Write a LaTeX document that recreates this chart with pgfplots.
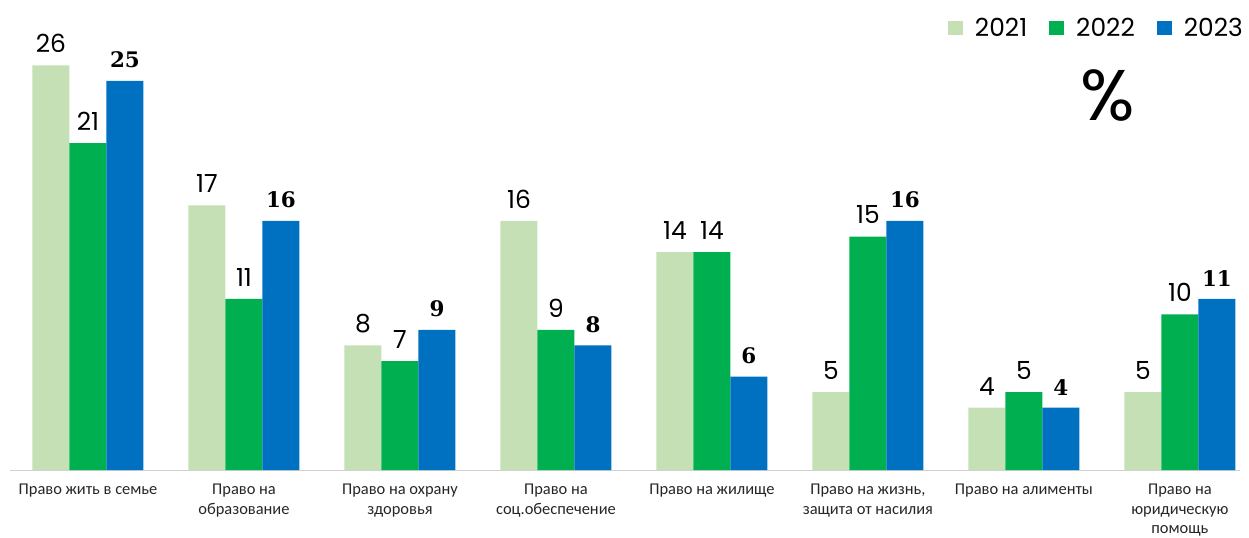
\documentclass[border=0pt]{standalone}
\usepackage{fontspec}
\usepackage{pgfplots}
\pgfplotsset{compat=1.18}
\setmainfont{Carlito}
\newfontfamily\pop{Poppins}
\newfontfamily\ser{DejaVu Serif}
\definecolor{lgreen}{HTML}{C5E0B4}
\definecolor{mgreen}{HTML}{00B050}
\definecolor{mblue}{HTML}{0070C0}

\begin{document}
\begin{tikzpicture}
\useasboundingbox (0,0) rectangle (1249bp,538bp);
\begin{axis}[
    at={(10bp,68bp)}, anchor=south west,
    scale only axis,
    width=1230bp, height=470bp,
    xmin=-0.5, xmax=7.385,
    ymin=0, ymax=30.2,
    ybar=0pt,
    bar width=37bp,
    clip=false,
    axis x line*=bottom,
    axis y line=none,
    x axis line style={draw=black!18, line width=1bp, -},
    xtick={0,...,7},
    major tick length=0pt,
    xticklabels={
        Право жить в семье,
        Право на\\образование,
        Право на охрану\\здоровья,
        Право на\\соц.обеспечение,
        Право на жилище,
        {Право на жизнь,\\защита от насилия},
        Право на алименты,
        Право на\\юридическую\\помощь},
    xticklabel style={align=center, anchor=north, inner sep=0pt, yshift=-14bp,
        font=\fontsize{16.5}{19.5}\selectfont, text=black!85},
    /pgf/number format/assume math mode=true,
    nodes near coords,
    every node near coord/.append style={inner sep=0pt, yshift=12.5bp,
        font=\pop\fontsize{25}{25}\selectfont, text=black},
    legend columns=3,
    legend image code/.code={\fill[#1] (0bp,-7bp) rectangle (15bp,7bp);},
    legend style={at={(axis description cs:1,1)}, anchor=north east,
        xshift=5bp, yshift=-16bp, draw=none, fill=none, inner sep=0pt,
        font=\pop\fontsize{25}{25}\selectfont,
        /tikz/every odd column/.append style={column sep=10bp},
        /tikz/every even column/.append style={column sep=20bp}},
]
\addplot[fill=lgreen, draw=none] coordinates {
    (0,26) (1,17) (2,8) (3,16) (4,14) (5,5) (6,4) (7,5)};
\addplot[fill=mgreen, draw=none] coordinates {
    (0,21) (1,11) (2,7) (3,9) (4,14) (5,15) (6,5) (7,10)};
\addplot[fill=mblue, draw=none,
    every node near coord/.append style={font=\ser\bfseries\fontsize{21.5}{21.5}\selectfont}]
    coordinates {
    (0,25) (1,16) (2,9) (3,8) (4,6) (5,16) (6,4) (7,11)};
\legend{2021,2022,2023}
\node[font=\pop\fontsize{72}{72}\selectfont] at (axis cs:6.54,24.04) {\%};
\end{axis}
\end{tikzpicture}
\end{document}
